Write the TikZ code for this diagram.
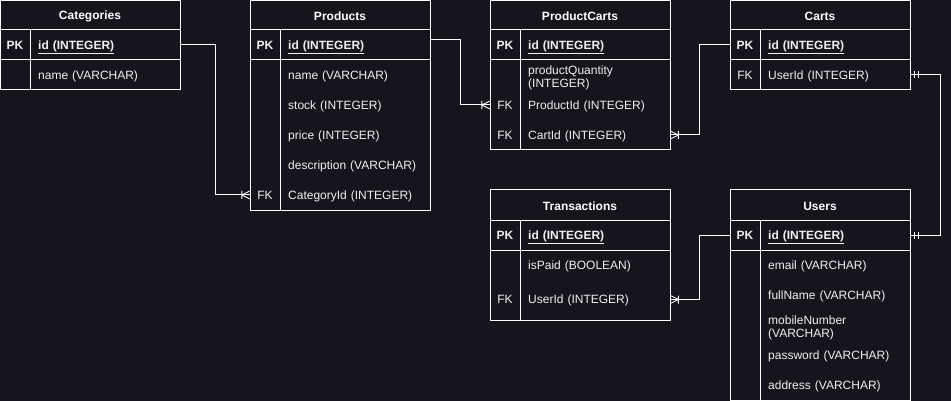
\documentclass[tikz,border=0pt]{standalone}
\usepackage{fontspec}
\setmainfont{Liberation Sans}
\definecolor{bgdark}{RGB}{24,20,29}
\definecolor{txtgrey}{RGB}{240,240,240}
\newcommand{\fsz}{\fontsize{12}{13}\selectfont}
% crow's foot with bar (one or many)
\pgfdeclarearrow{
  name = crowbar,
  setup code = {
    \pgfarrowssettipend{0pt}
    \pgfarrowssetlineend{0pt}
    \pgfarrowssetbackend{-8.5pt}
    \pgfarrowssetvisualbackend{-8.5pt}
  },
  drawing code = {
    \pgfsetlinewidth{0.9pt}
    \pgfsetbuttcap
    \pgfpathmoveto{\pgfpoint{-8pt}{0pt}}
    \pgfpathlineto{\pgfpoint{0pt}{4pt}}
    \pgfpathmoveto{\pgfpoint{-8pt}{0pt}}
    \pgfpathlineto{\pgfpoint{0pt}{-4pt}}
    \pgfpathmoveto{\pgfpoint{-8pt}{4pt}}
    \pgfpathlineto{\pgfpoint{-8pt}{-4pt}}
    \pgfusepathqstroke
  }
}
% double bar (exactly one)
\pgfdeclarearrow{
  name = twobar,
  setup code = {
    \pgfarrowssettipend{0pt}
    \pgfarrowssetlineend{0pt}
    \pgfarrowssetbackend{-8.5pt}
    \pgfarrowssetvisualbackend{-8.5pt}
  },
  drawing code = {
    \pgfsetlinewidth{0.9pt}
    \pgfsetbuttcap
    \pgfpathmoveto{\pgfpoint{-4pt}{3.5pt}}
    \pgfpathlineto{\pgfpoint{-4pt}{-3.5pt}}
    \pgfpathmoveto{\pgfpoint{-8pt}{3.5pt}}
    \pgfpathlineto{\pgfpoint{-8pt}{-3.5pt}}
    \pgfusepathqstroke
  }
}
\tikzset{
  tbl/.style={draw=white, line width=1pt},
  hd/.style={font=\fsz\bfseries, text=white, inner sep=0pt, yshift=-1pt},
  pkey/.style={font=\fsz\bfseries, text=txtgrey, inner sep=0pt, minimum width=30pt, minimum height=30pt},
  fkey/.style={font=\fsz, text=txtgrey, inner sep=0pt, minimum width=30pt, minimum height=30pt},
  fld/.style={anchor=west, font=\fsz, text=txtgrey, inner sep=0pt, text width=142pt, align=left,
    text height=8.8pt, text depth=0.2pt},
  twoline/.style={fld, text height=, text depth=},
  idfld/.style={fld, font=\fsz\bfseries},
  rel/.style={draw=white, line width=1pt},
  many/.style={-crowbar},
  onlyone/.style={twobar-twobar}
}
\begin{document}
\begin{tikzpicture}[x=1pt, y=-1pt]
\fill[bgdark] (0,0) rectangle (951,401);
\useasboundingbox (0,0) rectangle (951,401);

% Categories
\draw[tbl] (0.5,0.5) rectangle (180,90);
\draw[tbl] (0.5,30) -- (180,30) (0.5,60) -- (180,60) (30,30) -- (30,90);
\node[hd] (cat-head) at (90,15) {Categories};
\node[pkey] (cat-pk) at (15,45) {PK};
\node[idfld] (cat-id) at (38,45) {\underline{id (INTEGER)}};
\node[fld] (cat-name) at (38,75) {name (VARCHAR)};

% Products
\draw[tbl] (250,0.5) rectangle (430,210);
\draw[tbl] (250,30) -- (430,30) (250,60) -- (430,60) (280,30) -- (280,210);
\node[hd] (prod-head) at (340,15) {Products};
\node[pkey] (prod-pk) at (265,45) {PK};
\node[idfld] (prod-id) at (288,45) {\underline{id (INTEGER)}};
\node[fld] (prod-name) at (288,75) {name (VARCHAR)};
\node[fld] (prod-stock) at (288,105) {stock (INTEGER)};
\node[fld] (prod-price) at (288,135) {price (INTEGER)};
\node[fld] (prod-desc) at (288,165) {description (VARCHAR)};
\node[fkey] (prod-fk) at (265,195) {FK};
\node[fld] (prod-catid) at (288,195) {CategoryId (INTEGER)};

% ProductCarts
\draw[tbl] (490,0.5) rectangle (670,150);
\draw[tbl] (490,30) -- (670,30) (490,60) -- (670,60) (520,30) -- (520,150);
\node[hd] (pc-head) at (580,15) {ProductCarts};
\node[pkey] (pc-pk) at (505,45) {PK};
\node[idfld] (pc-id) at (528,45) {\underline{id (INTEGER)}};
\node[twoline] (pc-qty) at (528,78) {productQuantity\\(INTEGER)};
\node[fkey] (pc-fk1) at (505,105) {FK};
\node[fld] (pc-prodid) at (528,105) {ProductId (INTEGER)};
\node[fkey] (pc-fk2) at (505,135) {FK};
\node[fld] (pc-cartid) at (528,135) {CartId (INTEGER)};

% Carts
\draw[tbl] (730,0.5) rectangle (910,90);
\draw[tbl] (730,30) -- (910,30) (730,60) -- (910,60) (760,30) -- (760,90);
\node[hd] (cart-head) at (820,15) {Carts};
\node[pkey] (cart-pk) at (745,45) {PK};
\node[idfld] (cart-id) at (768,45) {\underline{id (INTEGER)}};
\node[fkey] (cart-fk) at (745,75) {FK};
\node[fld] (cart-userid) at (768,75) {UserId (INTEGER)};

% Transactions
\draw[tbl] (490,190) rectangle (670,320);
\draw[tbl] (490,220) -- (670,220) (490,250) -- (670,250) (520,220) -- (520,320);
\node[hd] (tr-head) at (580,205) {Transactions};
\node[pkey] (tr-pk) at (505,235) {PK};
\node[idfld] (tr-id) at (528,235) {\underline{id (INTEGER)}};
\node[fld] (tr-paid) at (528,265) {isPaid (BOOLEAN)};
\node[fkey] (tr-fk) at (505,299.5) {FK};
\node[fld] (tr-userid) at (528,299.5) {UserId (INTEGER)};

% Users
\draw[tbl] (730,190) rectangle (910,400.5);
\draw[tbl] (730,220) -- (910,220) (730,250) -- (910,250) (760,220) -- (760,400.5);
\node[hd] (user-head) at (820,205) {Users};
\node[pkey] (user-pk) at (745,235) {PK};
\node[idfld] (user-id) at (768,235) {\underline{id (INTEGER)}};
\node[fld] (user-email) at (768,265) {email (VARCHAR)};
\node[fld] (user-name) at (768,295) {fullName (VARCHAR)};
\node[twoline] (user-mobile) at (768,328) {mobileNumber\\(VARCHAR)};
\node[fld] (user-pass) at (768,355) {password (VARCHAR)};
\node[fld] (user-addr) at (768,385) {address (VARCHAR)};

% relations
\draw[rel, many] (cat-id.east) -- ++(35,0) |- (prod-fk.west);
\draw[rel, many] ([yshift=5pt]prod-id.east) -- ++(30,0) |- (pc-fk1.west);
\draw[rel, many] (cart-pk.west) -- ++(-30,0) |- (pc-cartid.east);
\draw[rel, onlyone] (cart-userid.east) -- ++(30,0) |- (user-id.east);
\draw[rel, many] (user-pk.west) -- ++(-30,0) |- (tr-userid.east);
\end{tikzpicture}
\end{document}
